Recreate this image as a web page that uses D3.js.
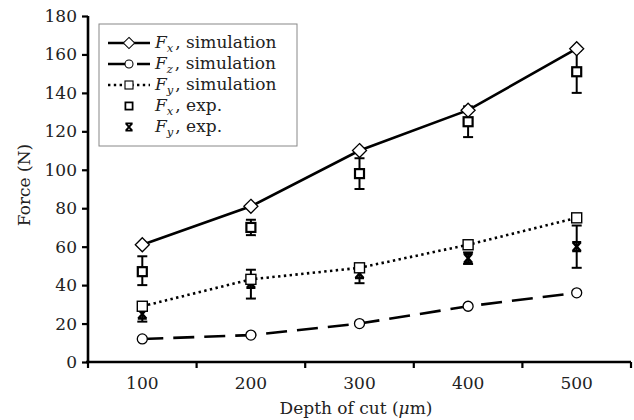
<!DOCTYPE html>
<html>
<head>
<meta charset="utf-8">
<script src="https://cdn.jsdelivr.net/npm/d3@7"></script>
<style>
  html, body { margin: 0; padding: 0; background: #fff; }
  svg { display: block; }
  text { font-family: "DejaVu Serif", "Liberation Serif", serif; fill: #222; }
</style>
</head>
<body>
<svg id="chart" width="634" height="420"></svg>
<script>
// Cutting force versus depth of cut
const depths = ["100", "200", "300", "400", "500"];
const yTicks = [0, 20, 40, 60, 80, 100, 120, 140, 160, 180];

const fxSim = [61, 81, 110, 131, 163];
const fzSim = [12, 14, 20, 29, 36];
const fySim = [29, 43, 49, 61, 75];

const fxExp = [47, 70, 98, 125, 151];
const fxExpLow = [40, 66, 90, 117, 140];
const fxExpHigh = [55, 74, 106, 133, 162];

const fyExp = [25, 41, 46, 54, 60];
const fyExpLow = [21, 33, 41, 51, 49];
const fyExpHigh = [29, 48, 50, 57, 71];

const svg = d3.select("#chart");
const plotLeft = 88, plotRight = 631, plotTop = 16, plotBottom = 362;
const fontSize = "17px";

const x = d3.scaleBand().domain(depths).range([plotLeft, plotRight]);
const y = d3.scaleLinear().domain([0, 180]).range([plotBottom, plotTop]);
const cx = d => x(d) + x.bandwidth() / 2;

// Axes
const yAxis = svg.append("g").attr("transform", `translate(${plotLeft},0)`)
  .call(d3.axisLeft(y).tickValues(yTicks).tickSize(6).tickPadding(5));
const xAxis = svg.append("g").attr("transform", `translate(0,${plotBottom})`)
  .call(d3.axisBottom(x).tickSize(0).tickPadding(15));

[yAxis, xAxis].forEach(g => {
  g.select(".domain").attr("stroke", "#000").attr("stroke-width", 2.6);
  g.selectAll("text").style("font-family", "'DejaVu Serif', serif")
    .style("font-size", fontSize).attr("fill", "#222");
});
yAxis.selectAll(".tick line").attr("stroke", "#000").attr("stroke-width", 2.2);
yAxis.select(".domain").attr("d", `M0,${plotTop}V${plotBottom + 1}`);
xAxis.select(".domain").attr("d", `M${plotLeft - 2},0H${plotRight}`);

// x ticks sit on the band boundaries
const boundaries = depths.map(d => x(d)).concat([plotRight]);
xAxis.selectAll(".bound").data(boundaries).join("line")
  .attr("x1", d => d).attr("x2", d => d).attr("y1", 0).attr("y2", 6)
  .attr("stroke", "#000").attr("stroke-width", 2.2);

// Axis titles
svg.append("text").attr("x", 356).attr("y", 414).attr("text-anchor", "middle")
  .style("font-size", fontSize)
  .html("Depth of cut (<tspan font-style='italic'>μ</tspan>m)");
svg.append("text").attr("transform", "translate(30,185) rotate(-90)")
  .attr("text-anchor", "middle").style("font-size", fontSize).text("Force (N)");

// Simulation lines
const line = vals => d3.line().x((v, i) => cx(depths[i])).y(v => y(v))(vals);
svg.append("path").attr("d", line(fxSim)).attr("fill", "none")
  .attr("stroke", "#000").attr("stroke-width", 2.6);
svg.append("path").attr("d", line(fzSim)).attr("fill", "none")
  .attr("stroke", "#000").attr("stroke-width", 2.6).attr("stroke-dasharray", "21,10");
svg.append("path").attr("d", line(fySim)).attr("fill", "none")
  .attr("stroke", "#000").attr("stroke-width", 2.6).attr("stroke-dasharray", "2.4,3.4");

// Error bars
function errorBars(low, high) {
  const g = svg.append("g").attr("stroke", "#000").attr("stroke-width", 2);
  depths.forEach((d, i) => {
    const px = cx(d);
    g.append("line").attr("x1", px).attr("x2", px).attr("y1", y(low[i])).attr("y2", y(high[i]));
    [low[i], high[i]].forEach(v => g.append("line")
      .attr("x1", px - 5).attr("x2", px + 5).attr("y1", y(v)).attr("y2", y(v)));
  });
}
errorBars(fxExpLow, fxExpHigh);
errorBars(fyExpLow, fyExpHigh);

// Marker shapes
function diamond(g, px, py) {
  g.append("path").attr("d", `M${px},${py - 7}L${px + 7},${py}L${px},${py + 7}L${px - 7},${py}Z`)
    .attr("fill", "#fff").attr("stroke", "#000").attr("stroke-width", 1.3);
}
function circle(g, px, py) {
  g.append("circle").attr("cx", px).attr("cy", py).attr("r", 5)
    .attr("fill", "#fff").attr("stroke", "#000").attr("stroke-width", 1.3);
}
function openSquare(g, px, py) {
  g.append("rect").attr("x", px - 5).attr("y", py - 5).attr("width", 10).attr("height", 10)
    .attr("fill", "#fff").attr("stroke", "#000").attr("stroke-width", 1.4);
}
function boldSquare(g, px, py) {
  g.append("rect").attr("x", px - 4.5).attr("y", py - 4.5).attr("width", 9).attr("height", 9)
    .attr("fill", "#fff").attr("stroke", "#000").attr("stroke-width", 2.2);
}
function cross(g, px, py) {
  g.append("path").attr("d", `M${px - 4},${py - 4.5}L${px + 4},${py + 4.5}M${px + 4},${py - 4.5}L${px - 4},${py + 4.5}M${px - 4.5},${py - 4.5}H${px + 4.5}M${px - 4.5},${py + 4.5}H${px + 4.5}`)
    .attr("stroke", "#000").attr("stroke-width", 2.4).attr("fill", "none");
}

const marks = svg.append("g");
depths.forEach((d, i) => {
  const px = cx(d);
  boldSquare(marks, px, y(fxExp[i]));
  cross(marks, px, y(fyExp[i]));
  diamond(marks, px, y(fxSim[i]));
  circle(marks, px, y(fzSim[i]));
  openSquare(marks, px, y(fySim[i]));
});

// Legend
const lg = svg.append("g");
lg.append("rect").attr("x", 99).attr("y", 24).attr("width", 198).attr("height", 122)
  .attr("fill", "#fff").attr("stroke", "#888").attr("stroke-width", 1);

const legendItems = [
  { sub: "x", label: ", simulation", dash: null, mark: diamond },
  { sub: "z", label: ", simulation", dash: "21,8", mark: circle },
  { sub: "y", label: ", simulation", dash: "2.4,3.4", mark: openSquare },
  { sub: "x", label: ", exp.", dash: "none", mark: boldSquare },
  { sub: "y", label: ", exp.", dash: "none", mark: cross }
];
legendItems.forEach((it, i) => {
  const ly = 43 + i * 21;
  if (it.dash !== "none") {
    lg.append("line").attr("x1", 108).attr("x2", 150).attr("y1", ly).attr("y2", ly)
      .attr("stroke", "#000").attr("stroke-width", 2.6)
      .attr("stroke-dasharray", it.dash);
  }
  const g = lg.append("g").attr("transform", `translate(129,${ly}) scale(0.8)`);
  it.mark(g, 0, 0);
  const t = lg.append("text").attr("x", 155).attr("y", ly + 5).style("font-size", fontSize);
  t.append("tspan").attr("font-style", "italic").text("F");
  t.append("tspan").attr("font-style", "italic").attr("font-size", "11.5px").attr("dy", 4).text(it.sub);
  t.append("tspan").attr("dy", -4).attr("dx", 2).text(it.label);
});
</script>
</body>
</html>
